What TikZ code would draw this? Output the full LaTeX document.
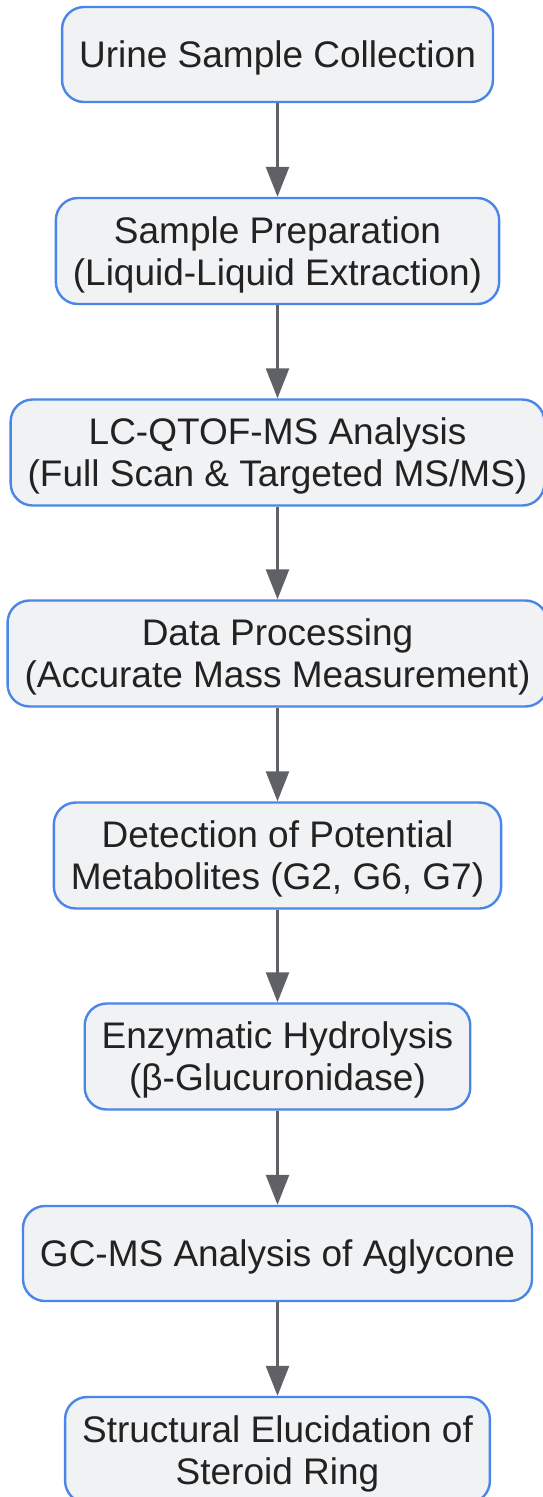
\documentclass[tikz,border=0pt]{standalone}
\usepackage{fontspec}
\setmainfont{Liberation Sans}
\usepackage{xcolor}
\usetikzlibrary{arrows.meta}
\definecolor{Box Blue}{HTML}{4A86E8}
\definecolor{Box Fill}{HTML}{F1F2F4}
\definecolor{Arrow Gray}{HTML}{5F6166}
\definecolor{Text Black}{HTML}{222222}

\begin{document}
\begin{tikzpicture}[x=1pt, y=1pt]
  \useasboundingbox (0,0) rectangle (543,-1497);

  \tikzstyle{step box}=[rectangle, rounded corners=22pt, draw=Box Blue, line width=2.4pt,
      fill=Box Fill, text=Text Black, align=center, inner xsep=17pt, inner ysep=0pt,
      text depth=0pt, font=\fontsize{37}{42}\selectfont]
  \tikzstyle{one line}=[step box, minimum height=95pt]
  \tikzstyle{two lines}=[step box, minimum height=106pt]
  \tikzstyle{flow}=[draw=Arrow Gray, line width=2.6pt, -{Triangle[width=23pt, length=30pt]}]

  % Draw the workflow steps, top to bottom
  \node[one line]  (S-1) at (277.5, -54.5)  {Urine Sample Collection};
  \node[two lines] (S-2) at (277.5, -251)   {Sample Preparation\\(Liquid-Liquid Extraction)};
  \node[two lines] (S-3) at (277.5, -452.5) {LC-QTOF-MS Analysis\\(Full Scan \& Targeted MS/MS)};
  \node[two lines] (S-4) at (277.5, -653.5) {Data Processing\\(Accurate Mass Measurement)};
  \node[two lines] (S-5) at (277.5, -855.5) {Detection of Potential\\Metabolites (G2, G6, G7)};
  \node[two lines] (S-6) at (277.5, -1056.5) {Enzymatic Hydrolysis\\(β-Glucuronidase)};
  \node[one line]  (S-7) at (277.5, -1253.5) {GC-MS Analysis of Aglycone};
  \node[two lines] (S-8) at (277.5, -1450)  {Structural Elucidation of\\Steroid Ring};

  % Connect each step with the next one
  \foreach \source [count=\dest from 2] in {1,...,7}
      \path[flow] (S-\source.south) -- (S-\dest.north);

\end{tikzpicture}
\end{document}
